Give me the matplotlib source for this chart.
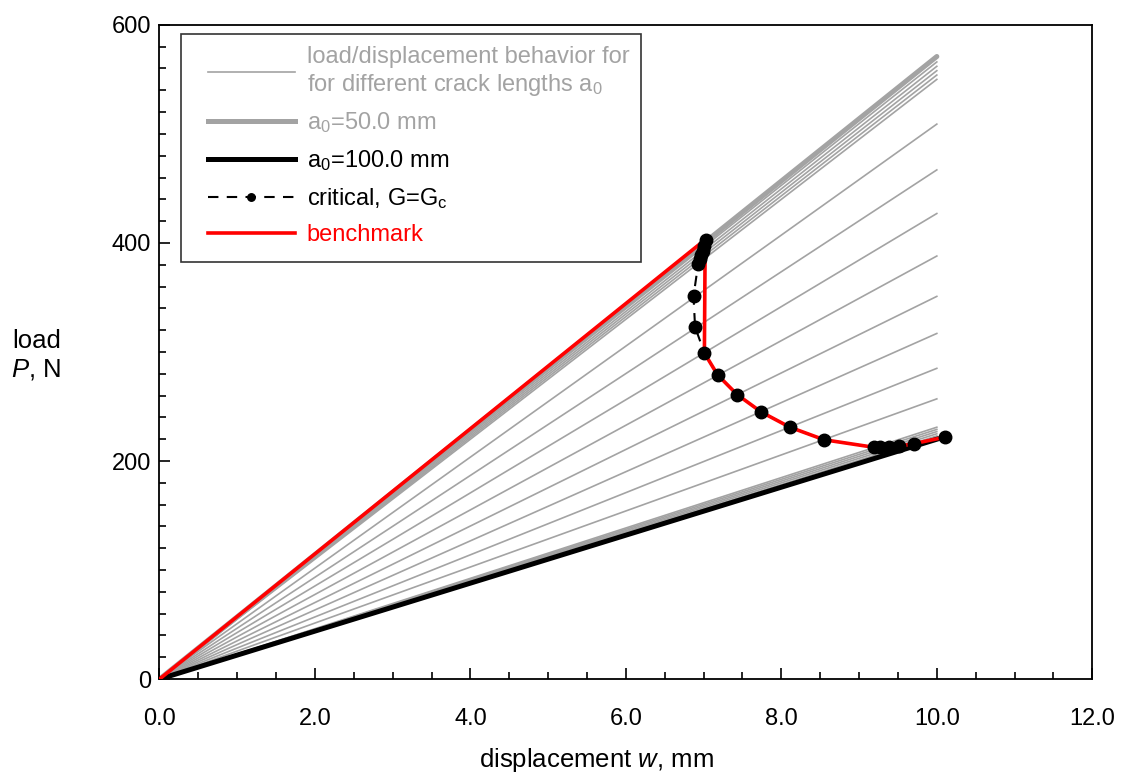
import matplotlib
matplotlib.use("Agg")
import matplotlib.pyplot as plt
from matplotlib.lines import Line2D
from matplotlib.patches import Rectangle
from matplotlib.ticker import MultipleLocator

plt.rcParams["font.family"] = ["Liberation Sans", "DejaVu Sans"]
plt.rcParams["mathtext.fontset"] = "custom"
plt.rcParams["mathtext.rm"] = "Liberation Sans"
plt.rcParams["mathtext.it"] = "Liberation Sans:italic"

# load at w = 10 mm for the intermediate crack lengths
thin_end_w = 10.0
thin_end_p = [566, 562, 558, 554, 550, 509, 467, 427, 388, 351, 317, 285, 257,
              231, 229, 227, 225, 223]
a50_end_p = 571
a100_end_p = 220

# critical points, G = Gc
crit_w = [7.03, 7.01, 6.99, 6.97, 6.95, 6.93, 6.87, 6.89, 7.01, 7.18, 7.43,
          7.74, 8.11, 8.55, 9.19, 9.27, 9.38, 9.51, 9.71, 10.11]
crit_p = [403, 397, 393, 389, 385, 381, 351, 323, 299, 279, 261, 245, 231,
          219.5, 212.6, 212.6, 212.6, 213.5, 216, 222]

# benchmark
bench_w = [0.0, 7.02, 7.01, 7.18, 7.43, 7.74, 8.11, 8.55, 9.19, 9.27, 9.38,
           9.51, 9.71, 10.11]
bench_p = [0, 403, 299, 279, 261, 245, 231, 219.5, 212.6, 212.6, 212.6,
           213.5, 216, 222]

GRAY = "#a3a3a3"
FS = 17
LABEL_FS = 18.5

fig = plt.figure(figsize=(11.39, 7.77), dpi=100)
ax = fig.add_axes([0.140, 0.126, 0.819, 0.842])

for p in thin_end_p:
    ax.plot([0, thin_end_w], [0, p], color=GRAY, lw=1.2, zorder=2)
ax.plot([0, thin_end_w], [0, a50_end_p], color=GRAY, lw=3.6,
        solid_capstyle="round", zorder=2)
ax.plot([0, thin_end_w], [0, a100_end_p], color="black", lw=3.6, zorder=2)

ax.plot(crit_w, crit_p, color="black", lw=1.5, ls=(0, (5, 4)), zorder=3)
ax.plot(bench_w, bench_p, color="red", lw=2.6, zorder=4)
ax.plot(crit_w, crit_p, "o", color="black", ms=9, zorder=5)

ax.set_xlim(0, 12)
ax.set_ylim(0, 600)
ax.xaxis.set_major_locator(MultipleLocator(2))
ax.xaxis.set_minor_locator(MultipleLocator(0.5))
ax.yaxis.set_major_locator(MultipleLocator(200))
ax.yaxis.set_minor_locator(MultipleLocator(20))
ax.set_xticklabels([f"{v:.1f}" for v in ax.get_xticks()])
ax.tick_params(which="both", direction="in", width=1.2, labelsize=FS,
               top=False, right=False)
ax.tick_params(which="major", length=8)
ax.tick_params(which="minor", length=5)
ax.tick_params(axis="x", pad=21)
ax.tick_params(axis="y", pad=6)
for s in ax.spines.values():
    s.set_linewidth(1.3)

fig.text(0.032, 0.543, "load\n$P$, N", ha="center", va="center",
         multialignment="center", fontsize=LABEL_FS)
fig.text(0.524, 0.022, "displacement $w$, mm", ha="center", va="center",
         fontsize=LABEL_FS)

# legend box drawn separately so the side padding can be wider
ax.add_patch(Rectangle((0.0236, 0.638), 0.4925, 0.348, transform=ax.transAxes,
                       facecolor="white", edgecolor="#333333", lw=1.2,
                       zorder=6))

handles = [
    Line2D([], [], color=GRAY, lw=1.2),
    Line2D([], [], color=GRAY, lw=3.6),
    Line2D([], [], color="black", lw=3.6),
    Line2D([], [], color="black", lw=1.5, ls=(0, (5, 4)), marker="o", ms=9),
    Line2D([], [], color="red", lw=2.6),
]
labels = [
    "load/displacement behavior for\nfor different crack lengths a$_0$",
    "a$_0$=50.0 mm",
    "a$_0$=100.0 mm",
    "critical, G=G$_\\mathrm{c}$",
    "benchmark",
]
leg = ax.legend(handles, labels, loc="upper left",
                bbox_to_anchor=(0.0515, 0.968), borderaxespad=0,
                fontsize=FS, handlelength=3.7, handletextpad=0.5,
                labelspacing=0.55, borderpad=0, frameon=False,
                markerscale=0.6)
leg.set_zorder(7)
for t, c in zip(leg.get_texts(), [GRAY, GRAY, "black", "black", "red"]):
    t.set_color(c)

fig.savefig("out.png", dpi=100)
